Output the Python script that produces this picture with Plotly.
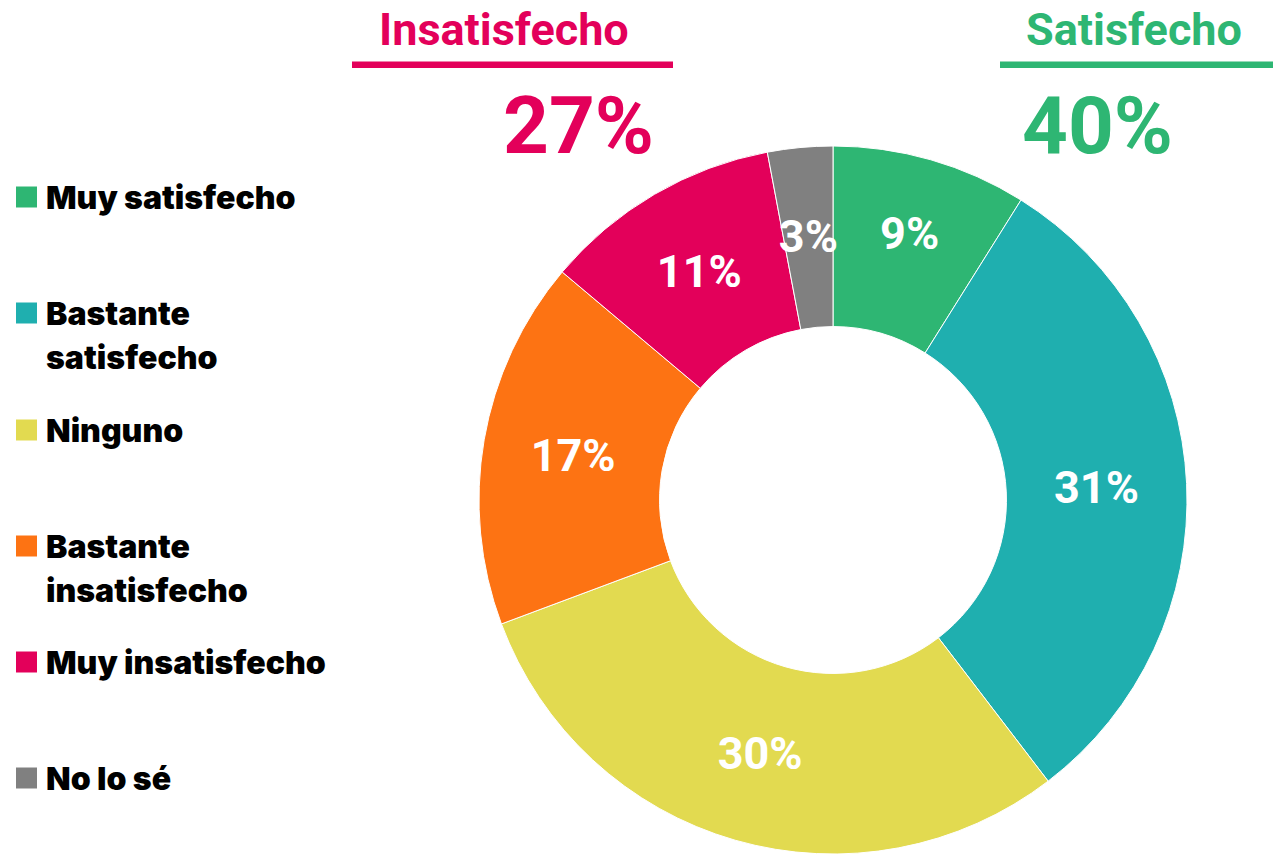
import plotly.graph_objects as go

categories = ["Muy satisfecho", "Bastante satisfecho", "Ninguno",
              "Bastante insatisfecho", "Muy insatisfecho", "No lo sé"]
legend_lines = [["Muy satisfecho"], ["Bastante", "satisfecho"], ["Ninguno"],
                ["Bastante", "insatisfecho"], ["Muy insatisfecho"], ["No lo sé"]]
values = [9, 31, 30, 17, 11, 3]
colors = ["#2EB673", "#1FAFAF", "#E2DA50", "#FD7313", "#E3005A", "#808080"]
group_titles = ["Insatisfecho", "Satisfecho"]
group_values = [27, 40]
group_colors = ["#E3005A", "#2EB673"]

W, H = 1273, 854

def py(px):
    return 1 - px / H

def px_x(px):
    return px / W

labels_txt = [f"{v}%" for v in values]
small = [v < 5 for v in values]
label_font = dict(family="Roboto", size=45, color="white", weight="bold")

fig = go.Figure()
# main donut
fig.add_trace(go.Pie(
    labels=categories,
    values=values,
    text=["" if s else t for t, s in zip(labels_txt, small)],
    textinfo="text",
    textposition="inside",
    insidetextorientation="horizontal",
    insidetextfont=label_font,
    marker=dict(colors=colors, line=dict(color="white", width=1)),
    hole=0.49,
    sort=False,
    direction="clockwise",
    rotation=0,
    showlegend=False,
    domain=dict(x=[px_x(479), px_x(1187)], y=[0, py(146)]),
))
# transparent inner ring that carries the labels of very thin slices
fig.add_trace(go.Pie(
    labels=categories,
    values=values,
    text=[t if s else "" for t, s in zip(labels_txt, small)],
    textinfo="text",
    textposition="inside",
    insidetextorientation="horizontal",
    insidetextfont=label_font,
    marker=dict(colors=["rgba(0,0,0,0)"] * len(values), line=dict(width=0)),
    hole=0.6,
    sort=False,
    direction="clockwise",
    rotation=0,
    showlegend=False,
    hoverinfo="skip",
    domain=dict(x=[px_x(833 - 289), px_x(833 + 289)], y=[py(500 + 289), py(500 - 289)]),
))

annotations = []
shapes = []

# custom legend
legend_y = [197, 313, 430, 546, 662, 778]
for lines, col, yy in zip(legend_lines, colors, legend_y):
    shapes.append(dict(type="rect", xref="paper", yref="paper",
                       x0=px_x(16), x1=px_x(37), y0=py(yy - 10.5), y1=py(yy + 10.5),
                       fillcolor=col, line=dict(width=0)))
    for i, ln in enumerate(lines):
        annotations.append(dict(text=ln, xref="paper", yref="paper",
                                x=px_x(44), y=py(yy + 44 * i), xanchor="left", yanchor="middle",
                                align="left", showarrow=False,
                                font=dict(family="Inter", size=32, color="black", weight=900)))

# group headers
title_cx = [504, 1134]
line_x = [(352, 673), (1000, 1273)]
value_cx = [578, 1097]
for t, v, c, tx, (lx0, lx1), vx in zip(group_titles, group_values, group_colors,
                                       title_cx, line_x, value_cx):
    annotations.append(dict(text=t, xref="paper", yref="paper", x=px_x(tx), y=py(29),
                            xanchor="center", yanchor="middle", showarrow=False,
                            font=dict(family="Roboto", size=45, color=c, weight="bold")))
    shapes.append(dict(type="rect", xref="paper", yref="paper",
                       x0=px_x(lx0), x1=px_x(lx1), y0=py(68), y1=py(61.5),
                       fillcolor=c, line=dict(width=0)))
    annotations.append(dict(text=f"{v}%", xref="paper", yref="paper", x=px_x(vx), y=py(126),
                            xanchor="center", yanchor="middle", showarrow=False,
                            font=dict(family="Roboto", size=80, color=c, weight="bold")))

fig.update_layout(
    width=W, height=H,
    margin=dict(l=0, r=0, t=0, b=0),
    paper_bgcolor="white",
    plot_bgcolor="white",
    uniformtext=dict(minsize=45, mode="show"),
    annotations=annotations,
    shapes=shapes,
)

fig.write_html("out.html", config={"displayModeBar": False},
               post_script="document.body.style.margin='0';")
